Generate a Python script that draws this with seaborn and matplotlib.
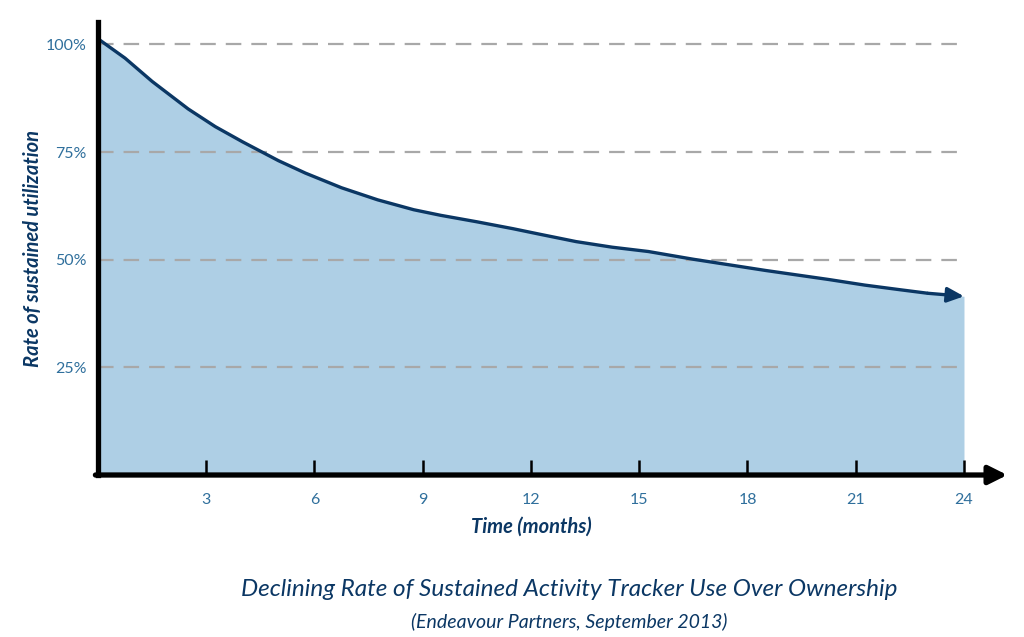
import seaborn as sns
import pandas as pd
from matplotlib import pyplot as plt

# values (percent of owners still using the tracker)
months = [0, 0.75, 1.5, 2.5, 3.25, 4, 5, 5.75, 6.75, 7.75, 8.75, 9.5, 10.5, 11.5,
          12.25, 13.25, 14.25, 15.25, 16.5, 17.5, 18.5, 19.5, 20.25, 21.25, 22.25, 23, 24]
usage = [101.3, 96.8, 91.4, 85.0, 80.9, 77.4, 73.0, 70.1, 66.7, 63.9, 61.6, 60.3, 58.8, 57.2,
         55.9, 54.2, 52.9, 51.9, 50.1, 48.8, 47.5, 46.3, 45.4, 44.1, 43.0, 42.2, 41.5]
xticks = [3, 6, 9, 12, 15, 18, 21, 24]
yticks = [25, 50, 75, 100]
ytick_labels = ['25%', '50%', '75%', '100%']

navy = '#0b3764'
tick_blue = '#2f6f9c'
fill_blue = '#aecfe5'

sns.set_style('white')
plt.rcParams['font.family'] = ['Lato', 'DejaVu Sans']

df = pd.DataFrame({'month': months, 'usage': usage})

fig = plt.figure(figsize=(10.24, 6.37), dpi=100)
ax = fig.add_axes([0.0957, 0.2543, 0.8457, 0.7112])
ax.set_axisbelow(False)

ax.fill_between(df['month'], df['usage'], color=fill_blue, lw=0, zorder=1)
for y in yticks:
    ax.axhline(y, color='#a8a8a8', lw=1.6, dashes=(7, 4.5), zorder=2)

sns.lineplot(data=df.iloc[:-1], x='month', y='usage', ax=ax, color=navy, lw=2.4,
             solid_capstyle='butt', zorder=3)
ax.annotate('', xy=(months[-1], usage[-1]), xytext=(months[-2], usage[-2]),
            arrowprops=dict(arrowstyle='-|>,head_length=1.0,head_width=0.45', color=navy, lw=2.4,
                            shrinkA=0, shrinkB=0), zorder=4)

ax.set_xlim(0, 24)
ax.set_ylim(0, 105.2)
ax.set_xticks(xticks, [str(t) for t in xticks])
ax.set_yticks(yticks, ytick_labels)
ax.tick_params(axis='x', bottom=True, direction='in', length=10.5, width=1.8, color='black', pad=13,
               labelsize=11.5, labelcolor=tick_blue)
ax.tick_params(axis='y', length=0, pad=8, labelsize=11.5, labelcolor=tick_blue)

for s in ['top', 'right', 'bottom']:
    ax.spines[s].set_visible(False)
ax.spines['left'].set_linewidth(3.8)
ax.spines['left'].set_color('black')
ax.spines['left'].set_zorder(5)

# x axis drawn as an arrow running past the plot area
ax.annotate('', xy=(1.05, 0), xytext=(-0.003, 0), xycoords='axes fraction',
            arrowprops=dict(arrowstyle='-|>,head_length=1.1,head_width=0.55', color='black', lw=3.8,
                            shrinkA=0, shrinkB=0), annotation_clip=False, zorder=5)

ax.set_xlabel('Time (months)', fontsize=14.5, fontweight='bold', fontstyle='italic', color=navy, labelpad=7)
ax.set_ylabel('Rate of sustained utilization', fontsize=14.5, fontweight='bold', fontstyle='italic',
              color=navy, labelpad=2)

fig.text(0.556, 0.074, 'Declining Rate of Sustained Activity Tracker Use Over Ownership',
         ha='center', va='center', fontsize=17.5, fontstyle='italic', color=navy)
fig.text(0.556, 0.023, '(Endeavour Partners, September 2013)',
         ha='center', va='center', fontsize=14, fontstyle='italic', color=navy)

plt.savefig('out.png', dpi=100)
